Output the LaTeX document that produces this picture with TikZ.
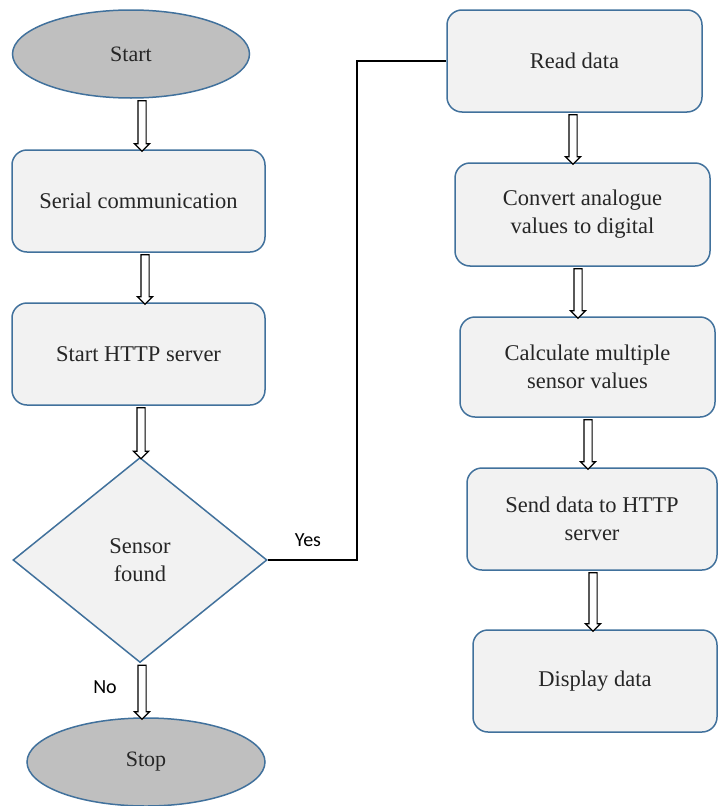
\documentclass[tikz,border=0pt]{standalone}
\usepackage{fontspec}
\setmainfont{Liberation Serif}
\newfontfamily\labelfont{Carlito}
\usetikzlibrary{shapes.geometric,shapes.arrows,calc}

\definecolor{edgeblue}{HTML}{41719C}
\definecolor{boxfill}{HTML}{F2F2F2}
\definecolor{termfill}{HTML}{BFBFBF}

\tikzset{
  terminal/.style={ellipse, draw=edgeblue, line width=1.5pt, fill=termfill,
    font=\fontsize{22}{26}\selectfont, text=black!85},
  process/.style={rectangle, rounded corners=15pt, draw=edgeblue, line width=1.5pt,
    fill=boxfill, align=center, font=\fontsize{22.5}{28}\selectfont, text=black!85},
  decision/.style={diamond, draw=edgeblue, line width=1.5pt, fill=boxfill,
    align=center, font=\fontsize{22.5}{28}\selectfont, text=black!85, inner sep=0pt},
  hollow/.style={single arrow, draw=black, line width=1.2pt, fill=white,
    inner sep=0pt, inner ysep=3.5pt, single arrow head extend=3.5pt, rotate=-90},
  yesno/.style={font=\labelfont\fontsize{20}{24}\selectfont}
}

% hollow arrow at x=#1 between the bottom of #2 and the top of #3
\newcommand{\flowarrow}[3]{%
  \path let \p1=(#2.south), \p2=(#3.north) in
    node[hollow, minimum height={\y1-\y2}] (#2-#3) at (#1pt,{0.5*(\y1+\y2)}) {};
}

\begin{document}
\begin{tikzpicture}[x=1pt,y=-1pt]
  \useasboundingbox (0,0) rectangle (718,806);

  % left column
  \node[terminal, minimum width=237, minimum height=88] (start) at (131,54) {Start};
  \node[process, minimum width=253, minimum height=102] (serial) at (138.5,201) {Serial communication};
  \node[process, minimum width=253, minimum height=102] (http) at (138.5,354) {Start HTTP server};
  \node[decision, minimum width=254, minimum height=205] (sensor) at (140,560) {Sensor\\found};
  \node[terminal, minimum width=238, minimum height=88] (stop) at (146,762) {Stop};

  % right column
  \node[process, minimum width=255, minimum height=102] (read) at (574.5,61) {Read data};
  \node[process, minimum width=255, minimum height=103] (convert) at (582.5,214.5) {Convert analogue\\values to digital};
  \node[process, minimum width=255, minimum height=100] (calc) at (587.5,367) {Calculate multiple\\sensor values};
  \node[process, minimum width=250, minimum height=102] (send) at (592,519) {Send data to HTTP\\server};
  \node[process, minimum width=244, minimum height=102] (display) at (595,681) {Display data};

  % arrows
  \flowarrow{142}{start}{serial}
  \flowarrow{145}{serial}{http}
  \flowarrow{141}{http}{sensor}
  \flowarrow{142}{sensor}{stop}
  \flowarrow{573}{read}{convert}
  \flowarrow{578}{convert}{calc}
  \flowarrow{588}{calc}{send}
  \flowarrow{593}{send}{display}

  % yes branch
  \draw[line width=1.5pt] (sensor.east) -- (357,560) |- (read.west);
  \node[yesno] (yes) at (308,540) {Yes};
  \node[yesno] (no) at (105,687) {No};
\end{tikzpicture}
\end{document}
